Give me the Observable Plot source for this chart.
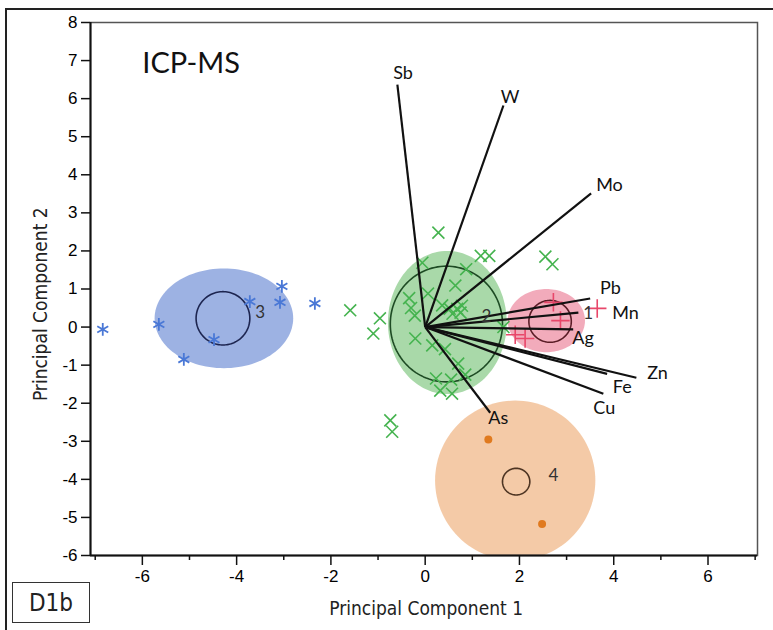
<!DOCTYPE html>
<html><head><meta charset="utf-8">
<script src="https://cdn.jsdelivr.net/npm/d3@7"></script>
<script src="https://cdn.jsdelivr.net/npm/@observablehq/plot@0.6"></script>
<style>
html,body{margin:0;padding:0;background:#fff;overflow:hidden;}
#wrap{position:relative;width:773px;height:630px;overflow:hidden;}
#border{position:absolute;left:5px;top:8px;width:820px;height:700px;border:2px solid #222;box-sizing:border-box;pointer-events:none;}
#tag{position:absolute;left:12px;top:582px;width:78px;height:41px;border:1.5px solid #333;box-sizing:border-box;
 font-family:"Liberation Sans Narrow","DejaVu Sans Condensed",sans-serif;font-size:24px;color:#222;
 display:flex;align-items:center;justify-content:center;background:#fff;}
</style></head>
<body><div id="wrap"><div id="chart"></div><div id="border"></div><div id="tag">D1b</div></div>
<script>
// ---- data ----
const blueX = [-6.84, -5.65, -5.12, -4.48, -3.72, -3.04, -3.08, -2.34];
const blueY = [-0.06, 0.07, -0.85, -0.33, 0.67, 1.07, 0.65, 0.62];

const greenX = [0.28, 1.18, 1.36, -0.06, 0.87, 0.64, -0.34, 0.06, -0.30, -0.22, 0.36, 0.52, 0.68, 0.78, 0.75, 0.58,
  1.66, -0.21, 0.15, 0.42, 0.70, 0.23, 0.55, 0.85, 0.32, 0.57, -1.59, -0.96, -1.10, -0.74, -0.70, 2.55, 2.70];
const greenY = [2.48, 1.87, 1.87, 1.69, 1.52, 1.09, 0.76, 0.88, 0.50, 0.30, 0.57, 0.48, 0.48, 0.56, 0.38, 0.35,
  0.00, -0.30, -0.48, -0.58, -0.96, -1.35, -1.38, -1.25, -1.67, -1.75, 0.44, 0.23, -0.17, -2.45, -2.75, 1.85, 1.65];

const redX = [2.72, 2.87, 3.65, 1.91, 2.12];
const redY = [0.65, 0.17, 0.49, -0.20, -0.30];

const orangeX = [1.34, 2.48];
const orangeY = [-2.95, -5.17];

// cluster regions (shaded) and mean circles
const clusterIds = ["1", "2", "3", "4"];
const shadeCx = [2.57, 0.47, -4.27, 1.91];
const shadeCy = [0.17, 0.12, 0.23, -4.03];
const shadeRx = [0.82, 1.26, 1.47, 1.70];
const shadeRy = [0.83, 1.88, 1.31, 2.10];
const ringCx = [2.65, 0.45, -4.29, 1.93];
const ringCy = [0.15, 0.08, 0.23, -4.06];
const ringRx = [0.45, 1.19, 0.57, 0.29];
const ringRy = [0.55, 1.52, 0.70, 0.35];
const idLabelX = [3.46, 1.30, -3.50, 2.72];
const idLabelY = [0.36, 0.28, 0.38, -3.90];

// loading vectors
const elements = ["Sb", "W", "Mo", "Pb", "Mn", "Ag", "Zn", "Fe", "Cu", "As"];
const loadX = [-0.59, 1.66, 3.52, 3.50, 3.25, 3.14, 4.48, 3.86, 3.78, 1.38];
const loadY = [6.37, 5.82, 3.51, 0.75, 0.38, -0.06, -1.33, -1.23, -1.75, -2.25];
const labelX = [-0.47, 1.80, 3.91, 3.93, 4.25, 3.35, 4.93, 4.18, 3.80, 1.55];
const labelY = [6.68, 6.03, 3.72, 1.02, 0.36, -0.30, -1.22, -1.59, -2.14, -2.40];

const xTicksMajor = [-6, -4, -2, 0, 2, 4, 6];
const xTicksMinor = [-7, -5, -3, -1, 1, 3, 5, 7];
const yTicks = [-6, -5, -4, -3, -2, -1, 0, 1, 2, 3, 4, 5, 6, 7, 8];

const shadeColors = ["#f1a6b7", "#a4d7a4", "#98aee2", "#f3c7a2"];
const ringColors = ["#5a1c26", "#1e4b24", "#1d2550", "#4d3422"];

// ---- build tables ----
const pts = (xs, ys) => xs.map((x, i) => ({x, y: ys[i]}));
function ellipse(cx, cy, rx, ry) {
  return d3.range(0, 121).map(k => {
    const t = 2 * Math.PI * k / 120;
    return {x: cx + rx * Math.cos(t), y: cy + ry * Math.sin(t)};
  });
}
const shadeMarks = clusterIds.map((id, i) =>
  Plot.line(ellipse(shadeCx[i], shadeCy[i], shadeRx[i], shadeRy[i]),
    {x: "x", y: "y", fill: shadeColors[i], fillOpacity: 0.95, stroke: "none", clip: true}));
const ringMarks = clusterIds.map((id, i) =>
  Plot.line(ellipse(ringCx[i], ringCy[i], ringRx[i], ringRy[i]),
    {x: "x", y: "y", stroke: ringColors[i], strokeWidth: 1.6}));
const loads = elements.map((e, i) => ({e, x: loadX[i], y: loadY[i], lx: labelX[i], ly: labelY[i]}));
const idLabels = clusterIds.map((id, i) => ({id, x: idLabelX[i], y: idLabelY[i]}));

const annFont = "Lato, 'Open Sans', sans-serif";

const chart = Plot.plot({
  width: 773, height: 630,
  marginLeft: 90, marginRight: 16, marginTop: 22, marginBottom: 75,
  style: {background: "transparent", fontFamily: "'Liberation Sans', Arial, sans-serif"},
  x: {domain: [-7.1, 7.05]},
  y: {domain: [-6, 8]},
  marks: [
    ...shadeMarks,
    ...ringMarks,
    Plot.dot(pts(blueX, blueY), {x: "x", y: "y", symbol: "asterisk", r: 6, stroke: "#4a78d6", strokeWidth: 1.8}),
    Plot.dot(pts(greenX, greenY), {x: "x", y: "y", symbol: "times", r: 5.5, stroke: "#45b34f", strokeWidth: 1.6}),
    Plot.dot(pts(redX, redY), {x: "x", y: "y", symbol: "plus", r: 6, stroke: "#e8476a", strokeWidth: 1.6}),
    Plot.dot(pts(orangeX, orangeY), {x: "x", y: "y", r: 4, fill: "#e07a1f", stroke: "none"}),
    Plot.link(loads, {x1: 0, y1: 0, x2: "x", y2: "y", stroke: "#111", strokeWidth: 2.2}),
    Plot.text(loads, {x: "lx", y: "ly", text: "e", fontSize: 18, fontFamily: annFont, fill: "#111"}),
    Plot.text(idLabels, {x: "x", y: "y", text: "id", fontSize: 17, fontFamily: annFont, fill: "#333"}),
    Plot.text(["ICP-MS"], {x: -6.0, y: 6.92, text: d => d, textAnchor: "start", fontSize: 29, fontFamily: annFont, fill: "#111"}),
    Plot.frame({stroke: "#555", strokeWidth: 1.5}),
    Plot.ruleX([-7.1], {stroke: "#111", strokeWidth: 2}),
    Plot.ruleY([-6], {stroke: "#111", strokeWidth: 2}),
    Plot.axisX(xTicksMajor, {tickSize: 10, tickPadding: 4, fontSize: 17, stroke: "#111", strokeWidth: 1.5,
      tickFormat: d => d, label: null}),
    Plot.axisX(xTicksMinor, {tickSize: 5, stroke: "#111", strokeWidth: 1.5, tickFormat: () => "", label: null}),
    Plot.axisY(yTicks, {tickSize: 9, tickPadding: 4, fontSize: 17, stroke: "#111", strokeWidth: 1.5,
      tickFormat: d => d, label: null}),
    Plot.text(["Principal Component 1"], {x: 0.02, y: -6, dy: 53, text: d => d, frameAnchor: "middle",
      fontSize: 19, fontFamily: "'Liberation Sans Narrow','DejaVu Sans Condensed',sans-serif", fill: "#222"}),
    Plot.text(["Principal Component 2"], {x: -7.1, y: 0.6, dx: -50, text: d => d, rotate: -90,
      fontSize: 19, fontFamily: "'Liberation Sans Narrow','DejaVu Sans Condensed',sans-serif", fill: "#222"})
  ]
});
document.getElementById("chart").appendChild(chart);
</script>
</body></html>
